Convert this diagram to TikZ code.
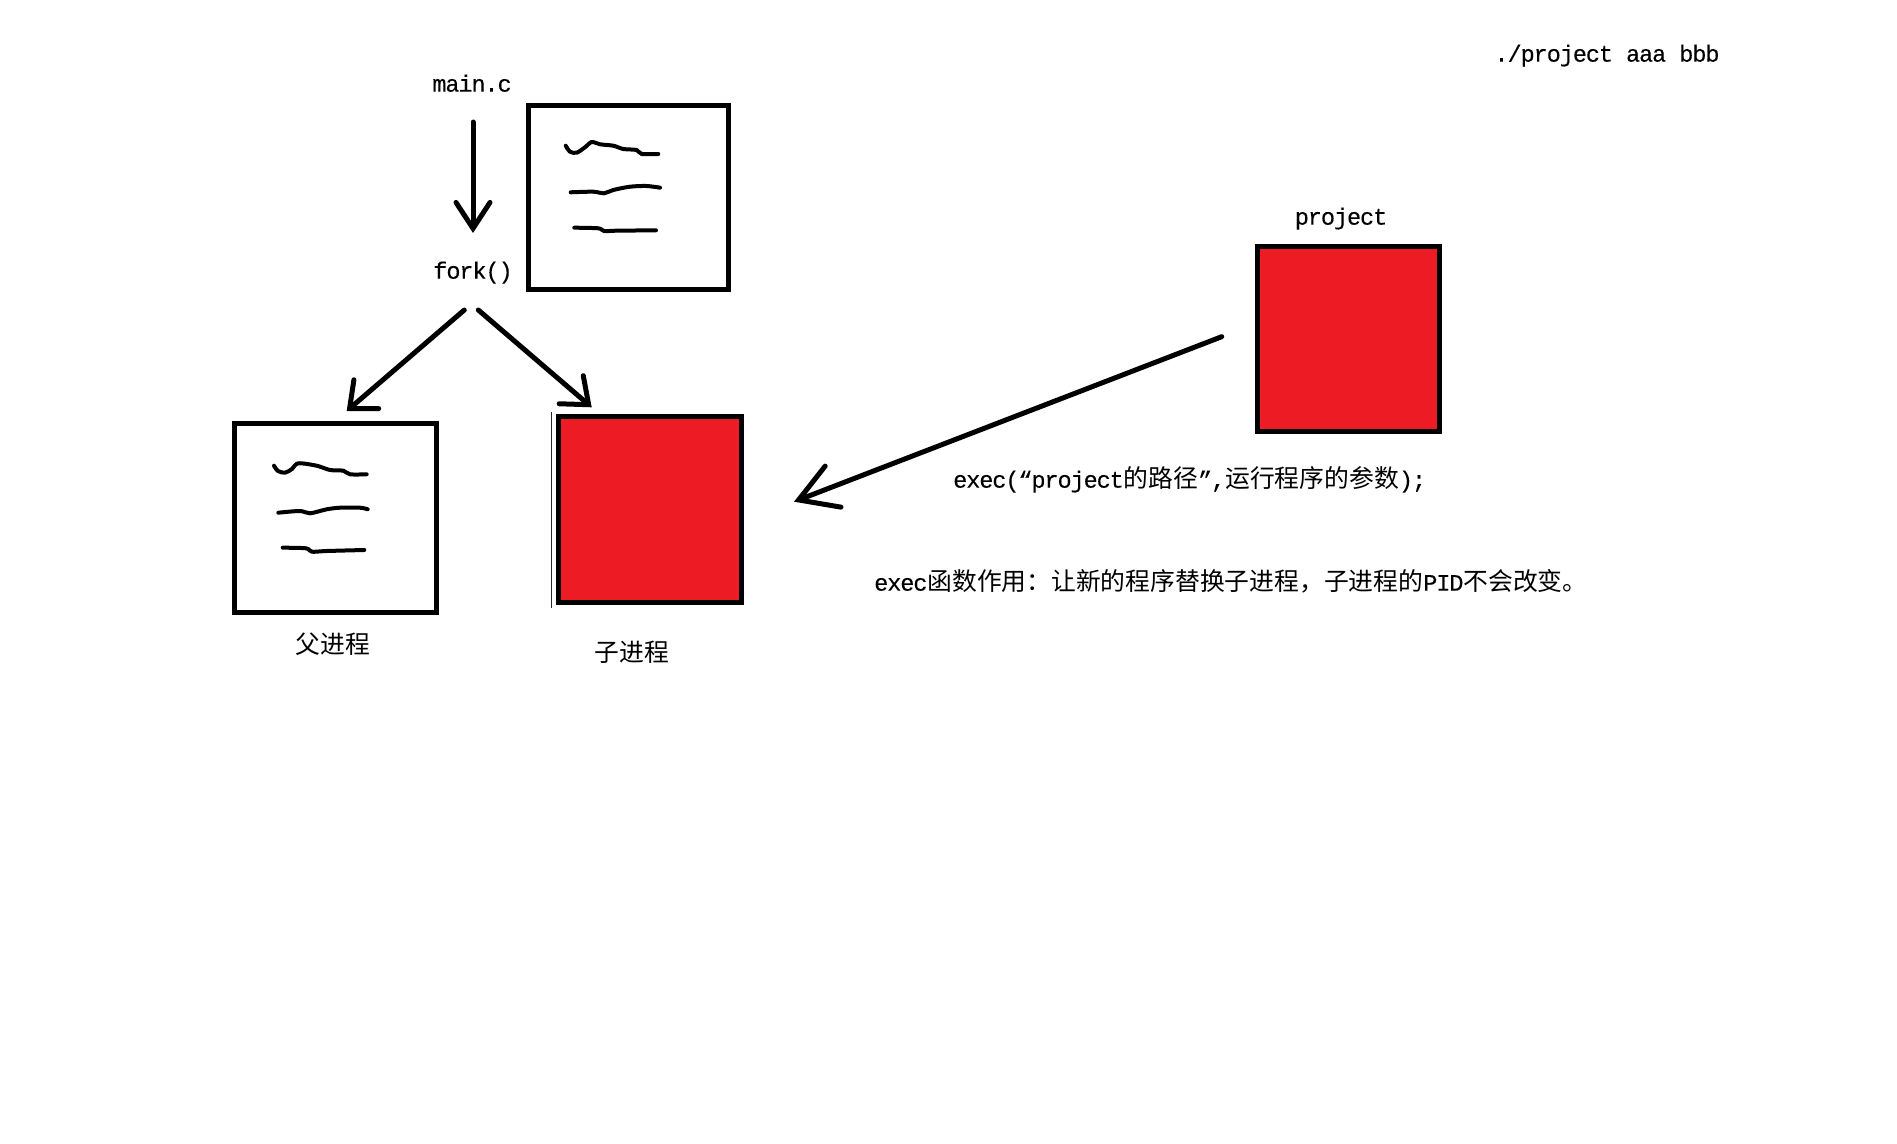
\documentclass[tikz,border=0pt]{standalone}
\usepackage{fontspec}
\setmainfont{Liberation Mono}[LetterSpace=-4.5, FakeBold=0.2]
\newfontfamily\cjk[Scale=1.055]{Noto Sans CJK SC}
\usetikzlibrary{arrows.meta}
\definecolor{paintred}{RGB}{237,28,36}
\begin{document}
\begin{tikzpicture}[x=1pt, y=-1pt,
  font=\fontsize{23.5}{28}\selectfont,
  plainbox/.style={draw=black, line width=5pt, fill=white, inner sep=0pt},
  redbox/.style={draw=black, line width=5pt, fill=paintred, inner sep=0pt},
  lbl/.style={inner sep=0pt, anchor=mid},
  arrline/.style={line width=5pt, line cap=round, line join=round},
  scribble/.style={line width=4pt, line cap=round, line join=round}]
\useasboundingbox[fill=white] (0,0) rectangle (1897,1143);

% boxes
\node[plainbox, minimum width=200pt, minimum height=184pt] (src) at (628.5,197.5) {};
\node[plainbox, minimum width=202pt, minimum height=189pt] (parent) at (335.8,518.2) {};
\node[redbox, minimum width=183pt, minimum height=186pt] (child) at (650,509.7) {};
\node[redbox, minimum width=182pt, minimum height=185pt] (proj) at (1348.5,339) {};
\draw[line width=1.5pt, black!85] (551.7,411.7) -- (551.7,608.3);

% labels
\node[lbl] (mainc) at (472,89) {main.c};
\node[lbl] (fork) at (473,276) {fork()};
\node[lbl] (cmd) at (1607,59) {./project aaa bbb};
\node[lbl] (projlbl) at (1341,222) {project};
\node[lbl] (parentlbl) at (333,651) {\cjk 父进程};
\node[lbl] (childlbl) at (632,659) {\cjk 子进程};
\node[lbl, anchor=mid west] (execcall) at (953,485) {exec(“project{\cjk 的路径}”,{\cjk 运行程序的参数});};
\node[lbl, anchor=mid west] (note) at (874,588) {exec{\cjk 函数作用：让新的程序替换子进程，子进程的}PID{\cjk 不会改变。}};

% connector end points
\coordinate (a1s) at (473,122);
\coordinate (a1e) at (473,233);
\coordinate (a2s) at (464.3,310);
\coordinate (a2e) at (346.7,411);
\coordinate (a3s) at (478.3,310);
\coordinate (a3e) at (591.7,407.3);
\coordinate (a4s) at (1221.7,336.7);
\coordinate (a4e) at (794,501.7);

\draw[arrline, -{Straight Barb[length=26pt, width=34pt, line cap=round]}] (a1s) -- (a1e);
\draw[arrline, -{Straight Barb[length=22pt, width=38pt, line cap=round]}] (a2s) -- (a2e);
\draw[arrline, -{Straight Barb[length=23pt, width=37pt, line cap=round]}] (a3s) -- (a3e);
\draw[arrline, -{Straight Barb[length=37pt, width=44pt, line cap=round]}] (a4s) -- (a4e);

% scribbles in the source box
\draw[scribble] plot[smooth, tension=0.5] coordinates {(565.7,145.7) (570,151.7) (576.7,152.7) (585,147.3) (591.7,142) (600,144.3) (613.3,145.7) (623.3,149) (636.7,150) (641.7,154) (658.3,154)};
\draw[scribble] plot[smooth, tension=0.5] coordinates {(570.7,192.3) (593.3,191.7) (604,193.3) (613.3,190) (630,186.7) (646.7,186) (660,187.7)};
\draw[scribble] plot[smooth, tension=0.5] coordinates {(574.3,227.7) (598.3,228.3) (604,231) (616.7,230.7) (656,230.3)};

% scribbles in the parent box
\draw[scribble] plot[smooth, tension=0.5] coordinates {(274,465.7) (278,471) (285,472.7) (292,469) (298.3,463.3) (316.7,465.7) (330,470) (343.3,470.7) (350,474.3) (366.7,474.3)};
\draw[scribble] plot[smooth, tension=0.5] coordinates {(278.3,512.7) (300,511) (310,513.3) (326.7,509.3) (340,507.7) (360,507.7) (367.7,509.3)};
\draw[scribble] plot[smooth, tension=0.5] coordinates {(282.7,547.7) (306,548.3) (311.7,551.7) (326.7,551) (364.3,550)};
\end{tikzpicture}
\end{document}
